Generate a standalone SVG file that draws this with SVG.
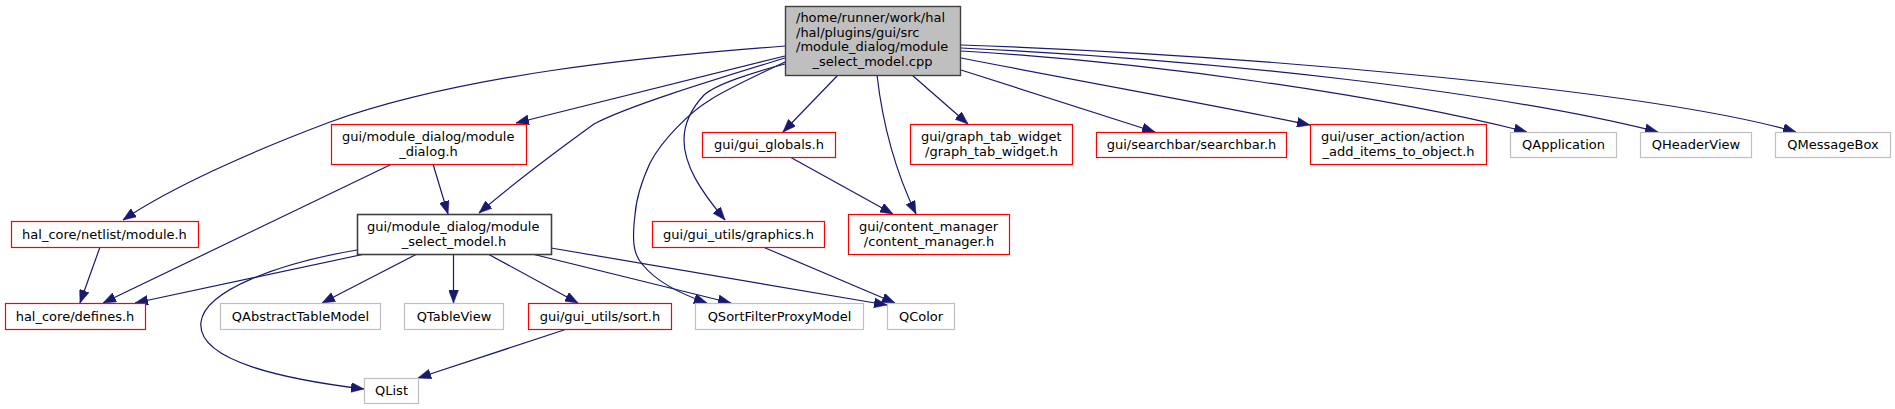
<svg xmlns="http://www.w3.org/2000/svg" width="1895" height="409" viewBox="0 0 1895 409">
<style>
text{font-family:"DejaVu Sans","Liberation Sans",sans-serif;font-size:13px;fill:#000}
.m{text-anchor:middle}
.red{fill:#fff;stroke:#ff0000;stroke-width:1.2}
.gry{fill:#fff;stroke:#bfbfbf;stroke-width:1.2}
.drk{fill:#fff;stroke:#404040;stroke-width:1.6}
.root{fill:#bfbfbf;stroke:#404040;stroke-width:1.4}
#edges path{fill:none;stroke:#191970;stroke-width:1.2;marker-end:url(#arr)}
</style>
<defs>
<marker id="arr" markerUnits="userSpaceOnUse" markerWidth="13" markerHeight="10" viewBox="0 0 13 10" refX="13" refY="5" orient="auto">
<path d="M0,0 L13,5 L0,10 z" fill="#191970" stroke="#191970" stroke-width="0.5"/>
</marker>
</defs>
<rect width="1895" height="409" fill="#fff"/>
<g id="edges">
<path d="M785,46 C640,57 460,75 330,122 C250,152 170,188 123,220"/>
<path d="M785,56 L516,123"/>
<path d="M785,58 C720,78 630,105 594,124 C565,145 515,182 479,213"/>
<path d="M785,62 C755,76 725,90 710,100 C690,112 662,140 650,163 C640,185 636,200 635,215 C632,240 633,255 643,265 C655,280 675,292 707,303"/>
<path d="M785,64 C750,73 715,85 704,95 C690,110 684,125 684,140 C684,165 700,190 725,220"/>
<path d="M838,75 L783,132"/>
<path d="M877,75 C881,110 890,160 916,214"/>
<path d="M912,75 L968,124"/>
<path d="M961,70 L1155,132"/>
<path d="M961,58 C1100,85 1230,108 1310,125"/>
<path d="M961,51 C1150,62 1380,95 1527,132"/>
<path d="M961,48 C1220,60 1500,92 1658,132"/>
<path d="M961,45 C1250,55 1650,90 1796,132"/>
<path d="M433,164 L448,214"/>
<path d="M392,164 L103,303"/>
<path d="M100,247 L80,303"/>
<path d="M365,254 L135,303"/>
<path d="M357,250 C280,263 205,290 201,322 C196,362 290,380 364,389"/>
<path d="M417,254 L322,303"/>
<path d="M453.5,254 L453.5,303"/>
<path d="M488,254 L578,303"/>
<path d="M532,254 L731,303"/>
<path d="M551,248 L887,305"/>
<path d="M763,247 L895,303"/>
<path d="M790,157 L893,214"/>
<path d="M567,329 L418,378"/>
</g>
<g id="root">
<rect class="root" x="785.5" y="6.5" width="175" height="69"/>
<text x="796" y="22.3">/home/runner/work/hal</text>
<text x="796" y="36.8">/hal/plugins/gui/src</text>
<text x="796" y="51.3">/module_dialog/module</text>
<text class="m" x="872.5" y="65.8">_select_model.cpp</text>
</g>
<g id="module_dialog_h">
<rect class="red" x="331.5" y="124.5" width="195" height="40"/>
<text x="342" y="141">gui/module_dialog/module</text>
<text class="m" x="428.5" y="155.5">_dialog.h</text>
</g>
<g id="module_h">
<rect class="red" x="11.5" y="221.5" width="187" height="26"/>
<text class="m" x="104.5" y="238.5">hal_core/netlist/module.h</text>
</g>
<g id="defines_h">
<rect class="red" x="5.5" y="303.5" width="140" height="26"/>
<text class="m" x="75" y="320.5">hal_core/defines.h</text>
</g>
<g id="module_select_model_h">
<rect class="drk" x="357.5" y="214.5" width="194" height="40"/>
<text x="367" y="231">gui/module_dialog/module</text>
<text class="m" x="454" y="245.5">_select_model.h</text>
</g>
<g id="QAbstractTableModel">
<rect class="gry" x="220.5" y="303.5" width="160" height="26"/>
<text class="m" x="300.5" y="320.5">QAbstractTableModel</text>
</g>
<g id="QTableView">
<rect class="gry" x="404.5" y="303.5" width="99" height="26"/>
<text class="m" x="454" y="320.5">QTableView</text>
</g>
<g id="QList">
<rect class="gry" x="364.5" y="378.5" width="54" height="25"/>
<text class="m" x="391.5" y="395">QList</text>
</g>
<g id="sort_h">
<rect class="red" x="528.5" y="303.5" width="143" height="26"/>
<text class="m" x="600" y="320.5">gui/gui_utils/sort.h</text>
</g>
<g id="QSortFilterProxyModel">
<rect class="gry" x="695.5" y="303.5" width="168" height="26"/>
<text class="m" x="779.5" y="320.5">QSortFilterProxyModel</text>
</g>
<g id="QColor">
<rect class="gry" x="887.5" y="303.5" width="67" height="26"/>
<text class="m" x="921" y="320.5">QColor</text>
</g>
<g id="gui_globals_h">
<rect class="red" x="702.5" y="132.5" width="133" height="25"/>
<text class="m" x="769" y="149">gui/gui_globals.h</text>
</g>
<g id="graphics_h">
<rect class="red" x="652.5" y="221.5" width="172" height="26"/>
<text class="m" x="738.5" y="238.5">gui/gui_utils/graphics.h</text>
</g>
<g id="content_manager_h">
<rect class="red" x="848.5" y="214.5" width="161" height="40"/>
<text x="859" y="231">gui/content_manager</text>
<text class="m" x="929" y="245.5">/content_manager.h</text>
</g>
<g id="graph_tab_widget_h">
<rect class="red" x="910.5" y="124.5" width="162" height="40"/>
<text x="921" y="141">gui/graph_tab_widget</text>
<text class="m" x="991.5" y="155.5">/graph_tab_widget.h</text>
</g>
<g id="searchbar_h">
<rect class="red" x="1096.5" y="132.5" width="190" height="25"/>
<text class="m" x="1191.5" y="149">gui/searchbar/searchbar.h</text>
</g>
<g id="action_add_items_to_object_h">
<rect class="red" x="1310.5" y="124.5" width="176" height="40"/>
<text x="1321" y="141">gui/user_action/action</text>
<text class="m" x="1398.5" y="155.5">_add_items_to_object.h</text>
</g>
<g id="QApplication">
<rect class="gry" x="1510.5" y="132.5" width="106" height="25"/>
<text class="m" x="1563.5" y="149">QApplication</text>
</g>
<g id="QHeaderView">
<rect class="gry" x="1640.5" y="132.5" width="111" height="25"/>
<text class="m" x="1696" y="149">QHeaderView</text>
</g>
<g id="QMessageBox">
<rect class="gry" x="1775.5" y="132.5" width="115" height="25"/>
<text class="m" x="1833" y="149">QMessageBox</text>
</g>
</svg>
